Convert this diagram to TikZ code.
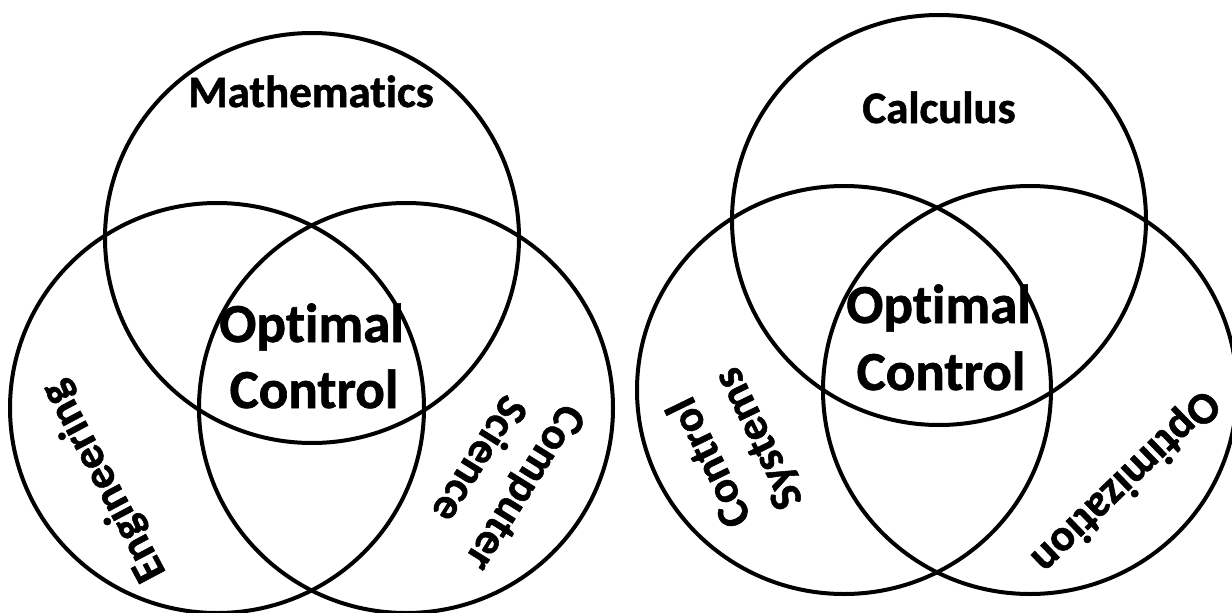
\documentclass[tikz,border=0pt]{standalone}
\usepackage{fontspec}
\setmainfont[Ligatures={NoCommon,NoContextual,NoRequired},BoldFeatures={FakeBold=1.2}]{Carlito}
\begin{document}
\begin{tikzpicture}[x=1pt,y=-1pt,
  ring/.style={draw=black,line width=4pt},
  big/.style={font=\fontsize{55}{66}\selectfont\bfseries,inner sep=0pt,anchor=base},
  side/.style={font=\fontsize{45}{54}\selectfont\bfseries,align=center,inner sep=0pt}]
\useasboundingbox[fill=white] (0,0) rectangle (1232,613);
% left diagram
\draw[ring] (312,238) ellipse [x radius=207, y radius=205];
\draw[ring] (217,408) ellipse [x radius=207, y radius=205];
\draw[ring] (406,408) ellipse [x radius=207, y radius=205];
\node[side,anchor=base] (math) at (311,107) {Mathematics};
\node[big] (ocLa) at (311.5,342) {Optimal};
\node[big] (ocLb) at (314,408) {Control};
\node[side,rotate=118] (eng) at (104,481) {Engineering};
\node[side,rotate=-122] (cs) at (503,474) {Computer\\Science};
% right diagram
\draw[ring] (939,220) ellipse [x radius=207, y radius=205];
\draw[ring] (844,390) ellipse [x radius=207, y radius=204];
\draw[ring] (1030,390) ellipse [x radius=207, y radius=204];
\node[side,anchor=base] (calc) at (939,123) {Calculus};
\node[big] (ocRa) at (938.5,323) {Optimal};
\node[big] (ocRb) at (941,390) {Control};
\node[side,rotate=116] (cts) at (735,450) {Control\\Systems};
\node[side,rotate=-136] (opt) at (1125,481) {Optimization};
\end{tikzpicture}
\end{document}
